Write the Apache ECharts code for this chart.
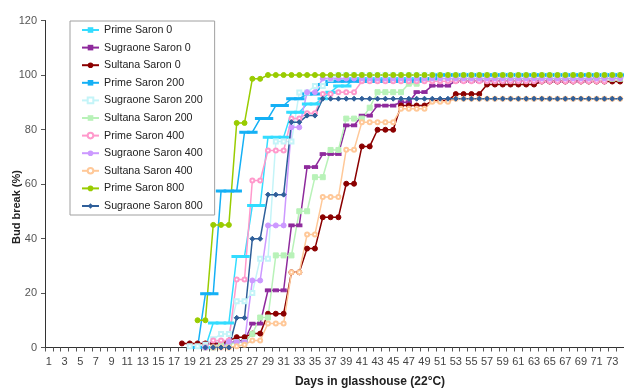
<!DOCTYPE html>
<html>
<head>
<meta charset="utf-8">
<script src="https://cdn.jsdelivr.net/npm/echarts@6/dist/echarts.min.js"></script>
<style>html,body{margin:0;padding:0;background:#fff;}#c{width:624px;height:392px;}</style>
</head>
<body>
<div id="c"></div>
<script>
// Days 1..74 on the x axis
const days = [1,2,3,4,5,6,7,8,9,10,11,12,13,14,15,16,17,18,19,20,21,22,23,24,25,26,27,28,29,30,31,32,33,34,35,36,37,38,39,40,41,42,43,44,45,46,47,48,49,50,51,52,53,54,55,56,57,58,59,60,61,62,63,64,65,66,67,68,69,70,71,72,73,74];
const yTicks = [0,20,40,60,80,100,120];
const seriesNames = ['Prime Saron 0','Sugraone Saron 0','Sultana Saron 0','Prime Saron 200','Sugraone Saron 200','Sultana Saron 200','Prime Saron 400','Sugraone Saron 400','Sultana Saron 400','Prime Saron 800','Sugraone Saron 800'];

// Values for days 18..74 (days 1..17 have no data)
const primeSaron0 = [null,null,0,0,9,9,9,33.4,33.4,52.1,52.1,77.2,77.2,77.2,86.3,86.3,89.4,89.4,91.3,93.7,96,96,
  98.6,98.6,98.6,98.6,98.6,98.6,98.6,98.6,98.6,98.6,98.6,
  100,100,100,100,100,100,100,100,100,100,100,100,100,100,100,100,100,100,100,100,100,100,100,100];
const sugraoneSaron0 = [null,null,null,1.5,1.5,1.5,1.5,2.5,2.5,8.8,8.8,21,21,21,44.8,44.8,66.2,66.2,71,71,71,81.5,81.5,85.1,85.1,88.8,88.8,88.8,90,90,93.7,93.7,96.1,96.1,96.1,
  97.8,97.8,97.8,97.8,97.8,97.8,97.8,97.8,97.8,97.8,97.8,97.8,97.8,97.8,97.8,97.8,97.8,97.8,
  99.5,99.5,99.5,99.5];
const sultanaSaron0 = [1.5,1.5,1.5,1.5,1.5,1.5,2.5,3.8,3.8,5.1,5.1,12.4,12.4,12.4,27.6,27.6,36.3,36.3,47.8,47.8,47.8,60.1,60.1,73.8,73.8,79.9,79.9,79.9,88.8,88.8,88.8,88.8,90.6,90.6,90.6,93,93,93,93,
  96.5,96.5,96.5,96.5,96.5,96.5,96.5,
  97.6,97.6,97.6,97.6,97.6,97.6,97.6,97.6,97.6,97.6,97.6];
const primeSaron200 = [null,null,0,19.7,19.7,57.4,57.4,57.4,79,79,84,84,88.8,88.8,91.3,91.3,93,93,96.5,
  97.7,97.7,97.7,97.7,97.7,97.7,97.7,97.7,97.7,97.7,97.7,97.7,98.6,98.6,
  100,100,100,100,100,100,100,100,100,100,100,100,100,100,100,100,100,100,100,100,100,100,100,100];
const sugraoneSaron200 = [null,0.5,0.5,1,3,5,5,17,17,20,32.6,32.6,75.6,75.6,75.6,93.6,93.6,96,96,98.6,
  100,100,100,100,100,100,100,100,100,100,100,100,100,100,100,100,100,100,100,100,100,100,100,100,100,100,100,100,100,100,100,100,100,100,100,100,100];
const sultanaSaron200 = [null,null,null,0,0,1,1,2,2,5,11,11,33.8,33.8,33.8,50,50,62.5,62.5,72.5,72.5,84,84,84,88,93.7,93.7,93.7,93.7,96.8,96.8,
  98.6,98.6,98.6,98.6,98.6,98.6,98.6,98.6,98.6,98.6,98.6,98.6,98.6,98.6,98.6,98.6,98.6,98.6,98.6,98.6,98.6,98.6,98.6,98.6,98.6,98.6];
const primeSaron400 = [null,null,null,0,2.6,2.6,2.6,25,25,61.3,61.3,72.3,72.3,72.3,84,84,86,86,93,93,93.7,93.7,93.7,
  97.7,97.7,97.7,97.7,97.7,97.7,97.7,97.7,97.7,97.7,97.7,97.7,97.7,97.7,97.7,97.7,97.7,97.7,97.7,97.7,97.7,97.7,97.7,97.7,97.7,97.7,97.7,97.7,97.7,97.7,97.7,97.7];
const sugraoneSaron400 = [null,null,null,0,0,0,2,2,2,24.6,24.6,44.8,44.8,44.8,80.8,80.8,93.7,93.7,
  98.7,98.7,98.7,98.7,98.7,98.7,98.7,98.7,98.7,98.7,98.7,98.7,98.7,98.7,98.7,98.7,98.7,98.7,98.7,98.7,98.7,98.7,98.7,98.7,98.7,98.7,98.7,98.7,98.7,98.7,98.7,98.7,98.7,98.7,98.7,98.7,98.7,98.7,98.7];
const sultanaSaron400 = [null,null,null,null,0,0,0,0.5,1,2.6,2.6,8.8,8.8,8.8,27.6,27.6,41.5,41.5,55.2,55.2,55.2,72.6,72.6,82.7,82.7,82.7,82.7,82.7,87.6,87.6,87.6,87.6,90.2,90.2,90.2,
  91.3,91.3,91.3,91.3,91.3,91.3,91.3,91.3,91.3,91.3,91.3,91.3,91.3,91.3,91.3,91.3,91.3,91.3,91.3,91.3,91.3,91.3];
const primeSaron800 = [null,null,10,10,45,45,45,82.4,82.4,98.6,98.6,
  100,100,100,100,100,100,100,100,100,100,100,100,100,100,100,100,100,100,100,100,100,100,100,100,100,100,100,100,100,100,100,100,100,100,100,100,100,100,100,100,100,100,100,100,100,100];
const sugraoneSaron800 = [null,null,null,0,0,0,0,10.9,10.9,39.9,39.9,56.1,56.1,56.1,82.7,82.7,85.1,85.1,
  91.3,91.3,91.3,91.3,91.3,91.3,91.3,91.3,91.3,91.3,91.3,91.3,91.3,91.3,91.3,91.3,91.3,91.3,91.3,91.3,91.3,91.3,91.3,91.3,91.3,91.3,91.3,91.3,91.3,91.3,91.3,91.3,91.3,91.3,91.3,91.3,91.3,91.3,91.3];

const firstDataDay = 18;
function pad(arr){ const out = []; for (let i = 1; i < firstDataDay; i++) out.push(null); return out.concat(arr); }

const values = [primeSaron0,sugraoneSaron0,sultanaSaron0,primeSaron200,sugraoneSaron200,sultanaSaron200,primeSaron400,sugraoneSaron400,sultanaSaron400,primeSaron800,sugraoneSaron800];
const styles = [
  {c:'#33dcff', s:'rect', z:[7,2]},
  {c:'#8e2a9c', s:'rect', z:[5,3]},
  {c:'#8b0000', s:'circle', z:5},
  {c:'#14b0f5', s:'rect', z:[7,2]},
  {c:'#c4f4f8', s:'emptyRect', z:4},
  {c:'#b8f2b8', s:'rect', z:5},
  {c:'#ff99cc', s:'emptyCircle', z:4},
  {c:'#cc99ff', s:'circle', z:5},
  {c:'#ffc898', s:'emptyCircle', z:4, b:'#e0956a'},
  {c:'#99cc00', s:'circle', z:5},
  {c:'#2f5f9a', s:'diamond', z:5}
];

const chart = echarts.init(document.getElementById('c'), null, {renderer:'canvas'});
const font = "'Liberation Sans', Arial, sans-serif";
chart.setOption({
  animation:false,
  backgroundColor:'#ffffff',
  grid:{left:45, right:0, top:20.5, bottom:44.5, containLabel:false},
  legend:{
    orient:'vertical', left:70, top:21,
    backgroundColor:'#ffffff', borderColor:'#a0a0a0', borderWidth:1,
    padding:[3,12,3,11], itemWidth:17, itemHeight:7, itemGap:5.6,
    textStyle:{fontFamily:font, fontSize:10.7, color:'#222', lineHeight:12},
    data:seriesNames
  },
  xAxis:{
    type:'category', data:days, boundaryGap:true,
    axisLine:{lineStyle:{color:'#333', width:1}},
    axisTick:{show:true, interval:0, length:4, lineStyle:{color:'#555'}},
    axisLabel:{interval:1, margin:9, fontFamily:font, fontSize:11, color:'#444'},
    splitLine:{show:false}
  },
  yAxis:{
    type:'value', min:0, max:120, interval:20,
    axisLine:{show:true, lineStyle:{color:'#333', width:1}},
    axisTick:{show:true, length:4, lineStyle:{color:'#555'}},
    axisLabel:{margin:8, fontFamily:font, fontSize:11, color:'#555'},
    splitLine:{show:false}
  },
  graphic:[
    {type:'text', x:17, y:207, rotation:Math.PI/2, style:{text:'Bud break (%)', font:"bold 11px 'Liberation Sans', Arial", fill:'#222', align:'center', verticalAlign:'middle'}},
    {type:'text', x:370, y:382, style:{text:'Days in glasshouse (22°C)', font:"bold 12px 'Liberation Sans', Arial", fill:'#222', align:'center', verticalAlign:'middle'}}
  ],
  series: values.map((v,i)=>({
    name:seriesNames[i], type:'line', data:pad(v),
    symbol:styles[i].s, symbolSize:styles[i].z, showSymbol:true, showAllSymbol:true,
    connectNulls:false,
    lineStyle:{color:styles[i].c, width:1.5},
    itemStyle:{color:styles[i].c, borderColor:styles[i].b || styles[i].c},
    emphasis:{disabled:true}
  }))
});
</script>
</body>
</html>
